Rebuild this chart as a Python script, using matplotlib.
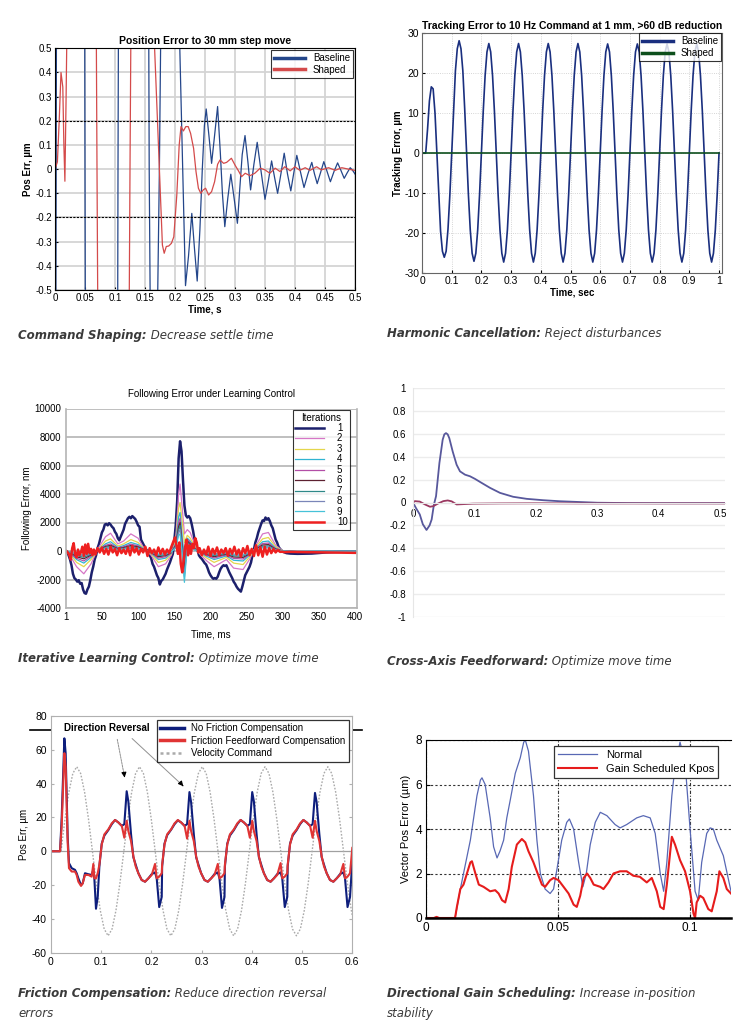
import numpy as np
import matplotlib
matplotlib.use("Agg")
import matplotlib.pyplot as plt
from matplotlib.ticker import FormatStrFormatter

plt.rcParams['font.family'] = ['Liberation Sans', 'DejaVu Sans']
plt.rcParams['axes.unicode_minus'] = False

W, H = 749, 1026

# ----------------------------
# DATA: command shaping (panel 1)
# ----------------------------
step_base_t = [0, 0.0012, 0.025, 0.05, 0.078, 0.105, 0.13, 0.157, 0.163, 0.174, 0.19, 0.208,
               0.2175, 0.2225, 0.228, 0.2325, 0.237, 0.2415, 0.2455, 0.249, 0.252, 0.2565,
               0.261, 0.266, 0.271, 0.2755, 0.279, 0.283, 0.288, 0.293, 0.2985, 0.304, 0.308,
               0.312, 0.3167, 0.3215, 0.326, 0.3315, 0.337, 0.3435, 0.35, 0.3555, 0.361, 0.366,
               0.371, 0.3765, 0.382, 0.3875, 0.393, 0.398, 0.403, 0.409, 0.415, 0.4215, 0.428,
               0.4325, 0.437, 0.4425, 0.448, 0.4535, 0.459, 0.465, 0.471, 0.4765, 0.482, 0.487,
               0.492, 0.496, 0.5]
step_base = [0, -1.0, 30, 0, -30, 0, 20, 0, -2, 0, 4, 0.5,
             -0.482, -0.36, -0.183, -0.33, -0.463, -0.25, 0.0, 0.18, 0.249, 0.14,
             0.024, 0.14, 0.259, 0.07, -0.1, -0.238, -0.12, -0.021, -0.12, -0.224, -0.08,
             0.06, 0.139, 0.03, -0.086, 0.02, 0.111, -0.01, -0.125, -0.05, 0.034, -0.035,
             -0.1, -0.02, 0.066, -0.02, -0.09, -0.015, 0.057, -0.01, -0.076, -0.02, 0.028,
             -0.02, -0.06, -0.015, 0.031, -0.01, -0.052, -0.01, 0.026, -0.005, -0.038, -0.015,
             0.006, -0.005, -0.02]
step_shaped_t = [0, 0.004, 0.007, 0.01, 0.013, 0.0148, 0.0165, 0.0185, 0.0195, 0.045, 0.07, 0.097,
                 0.125, 0.146, 0.166, 0.179, 0.182, 0.1855, 0.1895, 0.194, 0.198, 0.203, 0.207,
                 0.21, 0.214, 0.218, 0.222, 0.226, 0.231, 0.235, 0.239, 0.243, 0.247, 0.251,
                 0.256, 0.261, 0.266, 0.271, 0.275, 0.281, 0.286, 0.294, 0.3, 0.306, 0.311,
                 0.317, 0.325, 0.333, 0.342, 0.35, 0.358, 0.367, 0.375, 0.383, 0.392, 0.4,
                 0.408, 0.417, 0.425, 0.436, 0.444, 0.456, 0.467, 0.478, 0.489, 0.5]
step_shaped = [0, 0.03, 0.2, 0.4, 0.34, 0.1, -0.05, 0.3, 0.5, 12, 0, -12,
               0, 8, 0.5, -0.314, -0.348, -0.32, -0.318, -0.307, -0.28, -0.107, 0.1,
               0.176, 0.158, 0.176, 0.176, 0.148, 0.086, -0.01, -0.079, -0.1, -0.086, -0.079,
               -0.107, -0.093, -0.052, 0.02, 0.038, 0.024, 0.028, 0.045, 0.017, -0.008, -0.031,
               -0.017, -0.027, -0.017, 0.004, -0.003, -0.017, 0.004, -0.01, 0.01, -0.007, 0.01,
               -0.005, 0.006, -0.005, 0.01, -0.003, 0.006, -0.005, 0.006, 0, -0.005]

# ----------------------------
# DATA: harmonic cancellation (panel 2), one sample every 6.25 ms
# ----------------------------
track_t = np.linspace(0, 1, 161)
track_base = [
    0, 0, 0, 6, 13, 16.5, 16, 10, 0, -10.5, -19.5, -24.5, -26, -24.5, -19, -10.5,
    0, 11, 20.5, 26, 28, 26, 20.5, 11, 0, -10.4, -19.2, -25, -27, -25, -19.2, -10.4,
    0, 10.5, 19.3, 25.2, 27.3, 25.2, 19.3, 10.5, 0, -10.4, -19.2, -25, -27.2, -25, -19.2, -10.4,
    0, 10.5, 19.3, 25.2, 27.3, 25.2, 19.3, 10.5, 0, -10.4, -19.2, -25, -27.2, -25, -19.2, -10.4,
    0, 10.5, 19.3, 25.2, 27.3, 25.2, 19.3, 10.5, 0, -10.4, -19.2, -25, -27.2, -25, -19.2, -10.4,
    0, 10.5, 19.3, 25.2, 27.3, 25.2, 19.3, 10.5, 0, -10.4, -19.2, -25, -27.2, -25, -19.2, -10.4,
    0, 10.5, 19.3, 25.2, 27.2, 25.2, 19.3, 10.5, 0, -10.4, -19.2, -25, -27.2, -25, -19.2, -10.4,
    0, 10.5, 19.3, 25.2, 27.2, 25.2, 19.3, 10.5, 0, -10.4, -19.2, -25, -27.2, -25, -19.2, -10.4,
    0, 10.5, 19.3, 25.2, 27.2, 25.2, 19.3, 10.5, 0, -10.4, -19.2, -25, -27.2, -25, -19.2, -10.4,
    0, 10.5, 19.3, 25.2, 27.2, 25.2, 19.3, 10.5, 0, -10.4, -19.2, -25, -27.2, -25, -19.2, -10.4,
    0]
track_shaped = [0] * 161

# ----------------------------
# DATA: iterative learning control (panel 3)
# ----------------------------
ilc_first = [
    (0, 0), (3, -150), (6, -600), (8, -1000), (10, -1600), (12, -1900), (14, -2000), (16, -2150),
    (18, -2050), (20, -2300), (22, -2250), (24, -2700), (26, -2950), (28, -3000), (30, -2700),
    (32, -2500), (34, -2050), (36, -1500), (38, -1100), (40, -600), (42, -300), (44, 200),
    (46, 500), (48, 900), (50, 1300), (52, 1500), (54, 1850), (56, 1900), (58, 1800), (60, 1950),
    (62, 1850), (64, 1700), (66, 1600), (68, 1350), (70, 1200), (72, 900), (74, 750), (76, 1000),
    (78, 1250), (80, 1500), (82, 1900), (84, 2100), (86, 2300), (88, 2400), (90, 2300), (92, 2450),
    (94, 2350), (96, 2250), (98, 2050), (100, 1800), (102, 1700), (104, 800), (106, 600),
    (108, 400), (110, 200), (112, 50), (114, -100), (116, -300), (118, -500), (120, -900),
    (122, -1100), (124, -1400), (126, -1700), (128, -1900), (130, -2350), (132, -2100),
    (134, -2000), (136, -1800), (138, -1600), (140, -1300), (142, -1050), (144, -800),
    (146, -500), (148, -200), (150, 700), (152, 1800), (154, 3500), (156, 6500), (158, 7700),
    (160, 7000), (162, 5000), (164, 3200), (166, 2500), (168, 2350), (170, 2450), (172, 2300),
    (174, 1900), (176, 1400), (178, 800), (180, 500), (182, 100), (184, -300), (186, -450),
    (188, -550), (190, -700), (192, -850), (194, -950), (196, -1200), (198, -1500), (200, -1700),
    (202, -1850), (204, -1950), (206, -1900), (208, -1950), (210, -1800), (212, -1500),
    (214, -1250), (216, -1100), (218, -1000), (220, -1050), (222, -1000), (224, -1250),
    (226, -1500), (228, -1700), (230, -1900), (232, -2150), (234, -2300), (236, -2500),
    (238, -2650), (240, -2750), (242, -2850), (244, -2500), (246, -2100), (248, -1700),
    (250, -1500), (252, -1300), (254, -1100), (256, -800), (258, -300), (260, 100), (262, 600),
    (264, 900), (266, 1300), (268, 1600), (270, 1900), (272, 2150), (274, 2100), (276, 2350),
    (278, 2200), (280, 2300), (282, 2100), (284, 1800), (286, 1600), (288, 1200), (290, 800),
    (292, 600), (294, 300), (296, 150), (298, 50), (300, -50), (305, -150), (310, -180),
    (320, -200), (340, -180), (360, -100), (380, -60), (400, -60)]

ilc_mid_t = [1, 8, 15, 25, 35, 45, 55, 62, 72, 80, 90, 100, 108, 118, 128, 138, 146, 152, 156, 158,
             161, 164, 168, 172, 178, 185, 195, 205, 212, 222, 232, 245, 255, 263, 272, 280, 290,
             300, 320, 360, 400]
ilc_iter2 = [0, -500, -1100, -1600, -900, 200, 1000, 1250, 500, 700, 1200, 900, 200, -300, -1100,
             -900, -300, 900, 4000, 4700, 3000, 1200, 1500, 1300, 500, -200, -700, -1100, -900,
             -600, -1200, -1300, -500, 400, 1200, 1300, 400, 0, -100, -50, -50]
ilc_iter3 = [0, -350, -800, -1100, -600, 100, 700, 850, 350, 500, 800, 600, 150, -200, -800, -650,
             -200, 700, 3000, 3400, 2000, 600, 1100, 900, 350, -150, -500, -800, -650, -450, -850,
             -950, -350, 300, 850, 950, 300, 0, -80, -50, -50]
ilc_iter4 = [0, -250, -600, -850, -450, 80, 500, 650, 250, 380, 600, 450, 120, -150, -600, -500,
             -150, 550, 2400, 2700, 1000, -600, 900, 700, 250, -100, -380, -600, -500, -350, -650,
             -700, -250, 200, 650, 700, 200, 0, -60, -40, -40]
ilc_iter5 = [0, -200, -500, -700, -350, 60, 400, 500, 200, 300, 480, 360, 100, -120, -500, -400,
             -120, 450, 2000, 2300, 500, -1000, 800, 600, 200, -80, -300, -500, -400, -280, -520,
             -560, -200, 160, 520, 560, 160, 0, -50, -30, -30]
ilc_iter6 = [0, -150, -400, -550, -280, 50, 320, 400, 160, 240, 380, 290, 80, -100, -400, -320,
             -100, 380, 1700, 2000, 200, -1300, 700, 500, 160, -60, -240, -400, -320, -220, -420,
             -450, -160, 130, 420, 450, 130, 0, -40, -30, -30]
ilc_iter7 = [0, -120, -320, -440, -220, 40, 260, 320, 130, 190, 300, 230, 60, -80, -320, -260,
             -80, 320, 1500, 1800, 0, -1600, 600, 420, 130, -50, -190, -320, -260, -180, -340,
             -360, -130, 100, 340, 360, 100, 0, -40, -20, -20]
ilc_iter8 = [0, -100, -260, -350, -180, 30, 210, 260, 100, 150, 240, 180, 50, -60, -260, -210,
             -60, 260, 1300, 1500, -200, -1800, 500, 350, 100, -40, -150, -260, -210, -140, -270,
             -290, -100, 80, 270, 290, 80, 0, -30, -20, -20]
ilc_iter9 = [0, -80, -210, -280, -140, 25, 170, 210, 80, 120, 190, 150, 40, -50, -210, -170,
             -50, 210, 1100, 1200, -300, -2200, 400, 280, 80, -30, -120, -210, -170, -110, -220,
             -230, -80, 60, 220, 230, 60, 0, -30, -20, -20]

ilc_last_t = [1, 3, 5, 7, 9, 11, 13, 15, 17, 19, 21, 23, 25, 27, 29, 31, 33, 35, 37, 39, 41, 44,
              47, 50, 53, 56, 59, 62, 65, 68, 71, 74, 77, 80, 83, 86, 89, 92, 95, 98, 101, 104,
              107, 110, 113, 116, 119, 122, 125, 128, 131, 134, 137, 140, 143, 146, 149, 151,
              153, 155, 157, 159, 161, 163, 165, 167, 169, 171, 173, 175, 177, 179, 181, 183,
              185, 188, 191, 194, 197, 200, 203, 206, 209, 212, 215, 218, 221, 224, 227, 230,
              233, 236, 239, 242, 245, 248, 251, 254, 257, 260, 263, 266, 269, 272, 275, 278,
              281, 284, 287, 290, 293, 296, 299, 302, 310, 330, 360, 400]
ilc_iter10 = [0, -100, -300, -600, 200, 550, -200, -450, 100, -300, -100, 300, -350, 450, -200,
              500, -150, 150, -300, 100, -250, 200, -100, 250, -200, 150, -250, 300, -100, 150,
              -300, 200, -150, 100, -200, 250, -300, 350, -100, 200, -250, 150, -100, 300, -350,
              200, -150, 100, -300, 250, -200, 150, -250, 100, -150, 300, 700, 950, 400, -200,
              600, -900, -1500, -600, 300, 800, -300, 400, -200, 500, 200, 900, 600, -100, 200,
              -300, 100, -250, 300, -350, 150, -200, 250, -300, 100, -150, 200, -350, 150, -200,
              300, -250, 100, -400, 200, -150, 350, -300, 150, -350, 400, -300, 250, -400, 300,
              -250, 200, -150, 150, -100, 80, -60, -50, -80, -60, -80, -100, -130]
ilc_labels = ['1', '2', '3', '4', '5', '6', '7', '8', '9', '10']

# ----------------------------
# DATA: cross-axis feedforward (panel 4)
# ----------------------------
xff_t1 = [0, 0.005, 0.011, 0.016, 0.022, 0.027, 0.0304, 0.034, 0.0375, 0.043, 0.0483, 0.051,
          0.0537, 0.0565, 0.0591, 0.0646, 0.071, 0.0765, 0.0847, 0.0928, 0.101, 0.1118, 0.1254,
          0.1417, 0.163, 0.185, 0.212, 0.239, 0.272, 0.3, 0.35, 0.4, 0.45, 0.508]
xff_y1 = [0, -0.05, -0.104, -0.19, -0.24, -0.2, -0.148, -0.02, 0.055, 0.345, 0.548, 0.595,
          0.606, 0.595, 0.562, 0.446, 0.33, 0.272, 0.243, 0.229, 0.206, 0.171, 0.128,
          0.084, 0.05, 0.032, 0.02, 0.011, 0.004, -0.002, -0.005, -0.006, -0.006, -0.006]
xff_t2 = [0, 0.003, 0.011, 0.0195, 0.0277, 0.033, 0.0412, 0.0494, 0.0565, 0.063, 0.071, 0.079,
          0.098, 0.1417, 0.2, 0.3, 0.4, 0.508]
xff_y2 = [0, 0.012, 0.008, -0.017, -0.037, -0.032, -0.008, 0.012, 0.018, 0.01, -0.017, -0.015,
          -0.01, -0.008, -0.007, -0.008, -0.008, -0.008]

# ----------------------------
# DATA: friction compensation (panel 5)
# ----------------------------
fric_t = [0, 0.018, 0.0213, 0.0266, 0.0292, 0.0332, 0.0358, 0.0412, 0.0478, 0.0511, 0.0545,
          0.0598, 0.0631, 0.0677, 0.0744, 0.081, 0.0843, 0.0863, 0.0896, 0.093,
          0.0963, 0.101, 0.1063, 0.1143, 0.121, 0.1276, 0.1343, 0.141, 0.146, 0.1507, 0.154,
          0.1594, 0.164, 0.1687, 0.174, 0.1806, 0.1873, 0.194, 0.2006, 0.2072, 0.2105, 0.2155, 0.2205,
          0.2213, 0.226, 0.2313, 0.2393, 0.246, 0.2526, 0.2593, 0.266, 0.271, 0.2757, 0.279,
          0.2844, 0.289, 0.2937, 0.299, 0.3056, 0.3123, 0.319, 0.3256, 0.3322, 0.3355, 0.3405, 0.3455,
          0.3463, 0.351, 0.3563, 0.3643, 0.371, 0.3776, 0.3843, 0.391, 0.396, 0.4007, 0.404,
          0.4094, 0.414, 0.4187, 0.424, 0.4306, 0.4373, 0.444, 0.4506, 0.4572, 0.4605, 0.4655, 0.4705,
          0.4713, 0.476, 0.4813, 0.4893, 0.496, 0.5026, 0.5093, 0.516, 0.521, 0.5257, 0.529,
          0.5344, 0.539, 0.5437, 0.549, 0.5556, 0.5623, 0.569, 0.5756, 0.5822, 0.5855, 0.5905, 0.5955,
          0.6]
fric_none = [0, 0, 20, 66.8, 58, 8.6, -7, -10, -11, -13, -16, -20, -19, -13, -13.6, -14, -11, -16, -34, -27,
             -9, 4.5, 9.3, 12.6, 16, 18.5, 17, 15, 16, 35.5, 29.5, 10, -3.5, -8, -13, -17, -18, -16, -13.5, -12.5, -16, -33, -27,
             -9, 4.5, 9.5, 12.8, 16, 18.3, 17, 15, 16, 35, 29, 10, -3.5, -8, -13, -17, -18, -16, -13.5, -12.5, -16, -33.5, -27,
             -9, 4.5, 9.3, 12.6, 16, 18.5, 17, 15, 16, 35, 29.5, 10, -3.5, -8, -13, -17, -18, -16, -13.5, -12.5, -16, -33, -27,
             -9, 4.5, 9.3, 12.6, 16, 18.5, 17, 15, 16, 34.5, 29, 10, -3.5, -8, -13, -17, -18, -16, -13.5, -12.5, -16, -33, -27,
             -6]
fric_ff = [0, 0, 15, 58, 50, 5, -10, -12, -12, -14, -18, -20.5, -19, -14, -14, -15, -7.5, -16, -16, -13,
           -8, 4, 10, 13, 16.5, 18.5, 17, 15, 8, 18, 12, 6, -3, -9, -13, -17, -18, -16, -14, -7.5, -16, -15, -13,
           -8, 4, 10, 13, 16.5, 18.5, 17, 15, 7.5, 18, 12, 6, -3, -9, -13, -17, -18, -16, -14, -7.5, -16, -15, -13,
           -8, 4, 10, 13, 16.5, 18.5, 17, 15, 8, 18, 12, 6, -3, -9, -13, -17, -18, -16, -14, -7, -16, -15, -13,
           -8, 4, 10, 13, 16.5, 18.5, 17, 15, 8, 18, 12, 6, -3, -9, -13, -17, -18, -16, -14, -7.5, -16, -15, -13,
           2]
vel_t = np.append(0.02 + np.arange(75) * 0.0078125, 0.6)
vel_cmd = [0, 19, 35, 46, 50, 46, 35, 19, 0, -19, -35, -46, -50, -46, -35, -19,
           0, 19, 35, 46, 50, 46, 35, 19, 0, -19, -35, -46, -50, -46, -35, -19,
           0, 19, 35, 46, 50, 46, 35, 19, 0, -19, -35, -46, -50, -46, -35, -19,
           0, 19, 35, 46, 50, 46, 35, 19, 0, -19, -35, -46, -50, -46, -35, -19,
           0, 19, 35, 46, 50, 46, 35, 19, 0, -19, -35,
           -38]

# ----------------------------
# DATA: directional gain scheduling (panel 6)
# ----------------------------
gs_t1 = [0, 0.011, 0.013, 0.0168, 0.0193, 0.0206, 0.0212, 0.0224, 0.0243, 0.0256, 0.0269, 0.028,
         0.0294, 0.0306, 0.0319, 0.0338, 0.0357, 0.037, 0.0376, 0.0388, 0.0407, 0.042, 0.0433,
         0.0451, 0.047, 0.0483, 0.0496, 0.0514, 0.0533, 0.0543, 0.0559, 0.0578, 0.0594, 0.0607,
         0.0622, 0.0641, 0.066, 0.0685, 0.0716, 0.0735, 0.076, 0.0798, 0.0823, 0.0849, 0.0868,
         0.0887, 0.09, 0.0912, 0.0931, 0.0943, 0.0962, 0.0981, 0.1, 0.1019, 0.1031, 0.1044,
         0.1063, 0.1076, 0.1088, 0.1101, 0.1126, 0.1155]
gs_normal = [0, 0, 1.3, 3.5, 5.5, 6.2, 6.3, 6.0, 4.5, 3.2, 2.7, 3.0,
             3.5, 4.5, 5.3, 6.5, 7.2, 7.9, 8.0, 7.5, 5.5, 3.5, 2.0,
             1.3, 1.1, 1.3, 2.2, 3.5, 4.3, 4.45, 4.0, 2.5, 1.4, 2.0,
             3.3, 4.3, 4.75, 4.6, 4.2, 4.05, 4.2, 4.5, 4.6, 4.5, 3.8,
             2.0, 1.2, 2.5, 5.5, 6.8, 7.9, 7.0, 4.0, 1.2, 0.8, 2.5,
             3.8, 4.05, 4.0, 3.5, 2.8, 1.2]
gs_t2 = [0, 0.003, 0.004, 0.005, 0.011, 0.0117, 0.013, 0.0142, 0.0155, 0.0168, 0.0174, 0.0187,
         0.02, 0.0218, 0.0243, 0.0262, 0.0275, 0.0288, 0.03, 0.0313, 0.0325, 0.0344, 0.0363,
         0.0376, 0.0388, 0.0407, 0.0426, 0.0439, 0.0451, 0.047, 0.0483, 0.0502, 0.0521, 0.054,
         0.0559, 0.0571, 0.0584, 0.0597, 0.061, 0.0622, 0.0635, 0.066, 0.0672, 0.0691, 0.071,
         0.0735, 0.076, 0.0785, 0.081, 0.0836, 0.0855, 0.0874, 0.0887, 0.09, 0.0912, 0.0925,
         0.0931, 0.0943, 0.0962, 0.0981, 0.1, 0.1013, 0.1019, 0.1025, 0.1038, 0.105, 0.1069,
         0.1082, 0.1101, 0.1111, 0.1126, 0.1139, 0.1155]
gs_sched = [0, 0, 0.05, 0, 0, 0.5, 1.3, 1.5, 2.0, 2.5, 2.55, 2.0,
            1.5, 1.4, 1.2, 1.25, 1.1, 0.8, 0.7, 1.3, 2.3, 3.3, 3.55,
            3.4, 3.0, 2.5, 1.9, 1.5, 1.4, 1.7, 1.8, 1.7, 1.4, 1.1,
            0.6, 0.5, 1.0, 1.8, 2.0, 1.8, 1.5, 1.4, 1.3, 1.6, 2.0,
            2.1, 2.1, 1.9, 1.85, 1.6, 1.8, 1.2, 0.5, 0.4, 1.5, 3.0,
            3.65, 3.3, 2.6, 2.1, 1.2, 0.2, 0.0, 0.7, 1.0, 0.9, 0.4,
            0.3, 1.2, 2.1, 1.8, 1.3, 1.1]


def rect(left, top, right, bottom):
    return [left / W, 1 - bottom / H, (right - left) / W, (bottom - top) / H]


def ticks(a, b, step):
    # +0.0 turns -0.0 into 0.0 so no "-0" label appears
    return np.round(np.arange(a, b + step / 2, step), 3) + 0.0


fig = plt.figure(figsize=(W / 100, H / 100), dpi=100)

# full-figure layer for captions and the stray rule behind panel 5
bg = fig.add_axes([0, 0, 1, 1])
bg.set_xlim(0, W)
bg.set_ylim(H, 0)
bg.axis('off')
bg.set_zorder(-1)
bg.plot([30, 362], [730, 730], color='black', lw=1.2)

cap_kw = dict(fontsize=8.5, color='#3a3a3a', family='DejaVu Sans', fontstyle='italic')


def caption(x, y, head, rest, line2=None):
    t = bg.text(x, y, head, fontweight='bold', va='baseline', ha='left', **cap_kw)
    bg.annotate(rest, xy=(1, 0), xycoords=t, va='bottom', ha='left', **cap_kw)
    if line2:
        bg.text(x, y + 20, line2, va='baseline', ha='left', **cap_kw)


caption(18, 339, "Command Shaping:", " Decrease settle time")
caption(387, 337, "Harmonic Cancellation:", " Reject disturbances")
caption(18, 662, "Iterative Learning Control:", " Optimize move time")
caption(387, 665, "Cross-Axis Feedforward:", " Optimize move time")
caption(18, 997, "Friction Compensation:", " Reduce direction reversal", "errors")
caption(387, 997, "Directional Gain Scheduling:", " Increase in-position", "stability")

# ----------------------------
# PANEL 1
# ----------------------------
ax = fig.add_axes(rect(55, 48.3, 355, 290))
ax.plot(step_base_t, step_base, color='#24468a', lw=0.9, label='Baseline')
ax.plot(step_shaped_t, step_shaped, color='#d44a4a', lw=0.9, label='Shaped')
for yv in (0.2, -0.2):
    ax.axhline(yv, color='black', lw=0.8, ls=(0, (2, 1.2)))
ax.set_xlim(0, 0.5)
ax.set_ylim(-0.5, 0.5)
ax.set_xticks(ticks(0, 0.5, 0.05))
ax.set_yticks(ticks(-0.5, 0.5, 0.1))
ax.xaxis.set_major_formatter(FormatStrFormatter('%g'))
ax.yaxis.set_major_formatter(FormatStrFormatter('%g'))
ax.grid(True, color='#d4d4d4', lw=1.3)
ax.set_axisbelow(True)
ax.tick_params(direction='in', length=2, labelsize=7, pad=2)
ax.set_title('Position Error to 30 mm step move', fontsize=7.5, fontweight='bold', pad=3)
ax.set_xlabel('Time, s', fontsize=7, fontweight='bold', labelpad=1)
ax.set_ylabel('Pos Err, µm', fontsize=7, fontweight='bold', labelpad=2)
leg = ax.legend(loc='upper right', bbox_to_anchor=(0.993, 0.993), fontsize=7, frameon=True,
                fancybox=False, edgecolor='black', handlelength=3.2, borderpad=0.3,
                labelspacing=0.2, borderaxespad=0)
for h in leg.get_lines():
    h.set_linewidth(2.5)
leg.get_frame().set_linewidth(0.8)

# ----------------------------
# PANEL 2
# ----------------------------
ax = fig.add_axes(rect(422, 32.7, 722, 273.3))
ax.plot(track_t, track_base, color='#1a2f7f', lw=1.2, label='Baseline')
ax.plot(track_t, track_shaped, color='#0d4f1c', lw=1.2, label='Shaped')
ax.set_xlim(0, 1.01)
ax.set_ylim(-30, 30)
ax.set_xticks(ticks(0, 1, 0.1))
ax.set_yticks(ticks(-30, 30, 10))
ax.xaxis.set_major_formatter(FormatStrFormatter('%g'))
ax.yaxis.set_major_formatter(FormatStrFormatter('%g'))
ax.grid(True, color='#c8c8c8', lw=0.6, ls=':')
ax.tick_params(direction='in', length=2, labelsize=7.5, pad=2)
for s in ax.spines.values():
    s.set_color('#666666')
ax.set_title('Tracking Error to 10 Hz Command at 1 mm, >60 dB reduction', fontsize=7.5,
             fontweight='bold', pad=3)
ax.set_xlabel('Time, sec', fontsize=7, fontweight='bold', labelpad=1)
ax.set_ylabel('Tracking Error, µm', fontsize=7, fontweight='bold', labelpad=1)
leg = ax.legend(loc='upper right', bbox_to_anchor=(0.996, 0.997), fontsize=7, frameon=True,
                fancybox=False, edgecolor='black', handlelength=3.2, borderpad=0.3,
                labelspacing=0.2, borderaxespad=0)
for h in leg.get_lines():
    h.set_linewidth(2.5)
leg.get_frame().set_linewidth(0.8)

# ----------------------------
# PANEL 3
# ----------------------------
ax = fig.add_axes(rect(65.7, 408.5, 356.7, 608))
ilc_colors = ['#1c206c', '#d676c6', '#e4d64c', '#2fb4d2', '#b24ea6', '#5c2030', '#2e8888',
              '#7a86b8', '#46c2d8', '#ee2020']
ilc_mid = [ilc_iter2, ilc_iter3, ilc_iter4, ilc_iter5, ilc_iter6, ilc_iter7, ilc_iter8, ilc_iter9]
t1 = [p[0] for p in ilc_first]
y1 = [p[1] for p in ilc_first]
ax.plot(t1, y1, color=ilc_colors[0], lw=1.8, label=ilc_labels[0])
for i, ys in enumerate(ilc_mid):
    ax.plot(ilc_mid_t, ys, color=ilc_colors[i + 1], lw=0.9, label=ilc_labels[i + 1])
ax.plot(ilc_last_t, ilc_iter10, color=ilc_colors[9], lw=1.8, label=ilc_labels[9])
ax.set_xlim(0, 402)
ax.set_ylim(-4000, 10000)
ax.set_xticks([1, 50, 100, 150, 200, 250, 300, 350, 400])
ax.set_yticks(ticks(-4000, 10000, 2000))
ax.yaxis.set_major_formatter(FormatStrFormatter('%d'))
ax.grid(True, axis='y', color='#b4b4b4', lw=1.2)
ax.set_axisbelow(True)
ax.tick_params(length=0, labelsize=7, pad=3)
ax.spines['top'].set_visible(False)
for s in ('left', 'right', 'bottom'):
    ax.spines[s].set_color('#b4b4b4')
    ax.spines[s].set_linewidth(1.2)
ax.set_title('Following Error under Learning Control', fontsize=7, pad=8)
ax.set_xlabel('Time, ms', fontsize=7, labelpad=5)
ax.set_ylabel('Following Error, nm', fontsize=7, labelpad=2)
leg = ax.legend(loc='upper right', bbox_to_anchor=(0.977, 0.992), fontsize=7,
                title='Iterations', title_fontsize=7, frameon=True, fancybox=False,
                edgecolor='black', handlelength=3.0, borderpad=0.25, labelspacing=0.05,
                borderaxespad=0, handletextpad=1.3)
leg.get_frame().set_linewidth(0.8)
for t in leg.get_texts():
    t.set_ha('right')

# ----------------------------
# PANEL 4
# ----------------------------
ax = fig.add_axes(rect(413, 388, 725, 617))
ax.plot(xff_t1, xff_y1, color='#58589c', lw=1.3)
ax.plot(xff_t2, xff_y2, color='#9a3860', lw=1.3)
ax.set_xlim(0, 0.508)
ax.set_ylim(-1, 1)
ax.set_yticks(ticks(-1, 1, 0.2))
ax.set_xticks(ticks(0, 0.5, 0.1))
ax.xaxis.set_major_formatter(FormatStrFormatter('%g'))
ax.yaxis.set_major_formatter(FormatStrFormatter('%g'))
ax.grid(True, axis='y', color='#ececec', lw=1.0)
ax.set_axisbelow(True)
ax.spines['bottom'].set_position(('data', 0))
ax.spines['bottom'].set_color('#e6e6e6')
ax.spines['left'].set_color('#e6e6e6')
ax.spines['top'].set_visible(False)
ax.spines['right'].set_visible(False)
ax.tick_params(length=0, labelsize=7, pad=5)

# ----------------------------
# PANEL 5
# ----------------------------
ax = fig.add_axes(rect(51, 716, 352.3, 952.7))
ax.axhline(0, color='#a0a0a0', lw=0.9)
ax.plot(vel_t, vel_cmd, color='#aaaaaa', lw=1.0, ls=(0, (1.2, 1.2)), label='Velocity Command')
ax.plot(fric_t, fric_none, color='#0e1e7c', lw=1.5, label='No Friction Compensation')
ax.plot(fric_t, fric_ff, color='#e03434', lw=1.5, label='Friction Feedforward Compensation')
ax.set_xlim(0, 0.6)
ax.set_ylim(-60, 80)
ax.set_xticks(ticks(0, 0.6, 0.1))
ax.set_yticks(ticks(-60, 80, 20))
ax.xaxis.set_major_formatter(FormatStrFormatter('%g'))
ax.yaxis.set_major_formatter(FormatStrFormatter('%g'))
for s in ax.spines.values():
    s.set_color('#b0b0b0')
ax.tick_params(direction='in', length=2, color='#b0b0b0', labelsize=7.5, pad=3,
               right=True, top=False)
ax.set_ylabel('Pos Err, µm', fontsize=7, labelpad=2)
hs, ls_ = ax.get_legend_handles_labels()
leg = ax.legend([hs[1], hs[2], hs[0]], [ls_[1], ls_[2], ls_[0]], loc='upper right',
                bbox_to_anchor=(0.989, 0.983), fontsize=7, frameon=True, fancybox=False,
                edgecolor='black', handlelength=2.4, borderpad=0.35, labelspacing=0.25,
                borderaxespad=0)
leg.get_lines()[0].set_linewidth(2.5)
leg.get_lines()[1].set_linewidth(2.5)
leg.get_lines()[2].set_linewidth(1.8)
leg.get_frame().set_linewidth(0.9)
ax.text(0.1116, 72.9, 'Direction Reversal', fontsize=7, ha='center', va='center', fontweight='bold')
ax.annotate('', xy=(0.1474, 42.5), xytext=(0.1309, 67.8),
            arrowprops=dict(arrowstyle='-', color='#909090', lw=0.7, ls=(0, (2, 1))))
ax.annotate('', xy=(0.267, 37.6), xytext=(0.1574, 67.8),
            arrowprops=dict(arrowstyle='-', color='#909090', lw=0.7))
ax.annotate('', xy=(0.1474, 42.0), xytext=(0.1455, 46),
            arrowprops=dict(arrowstyle='-|>', color='black', lw=0.8, mutation_scale=7))
ax.annotate('', xy=(0.267, 37.2), xytext=(0.259, 40),
            arrowprops=dict(arrowstyle='-|>', color='black', lw=0.8, mutation_scale=7))

# ----------------------------
# PANEL 6
# ----------------------------
ax = fig.add_axes(rect(426, 740, 731, 918))
ax.plot(gs_t1, gs_normal, color='#5868b4', lw=0.9, label='Normal')
ax.plot(gs_t2, gs_sched, color='#e61c1c', lw=1.5, label='Gain Scheduled Kpos')
ax.set_xlim(0, 0.1155)
ax.set_ylim(0, 8)
ax.set_xticks([0, 0.05, 0.1])
ax.set_yticks([0, 2, 4, 6, 8])
ax.xaxis.set_major_formatter(FormatStrFormatter('%g'))
ax.grid(True, axis='y', color='#333333', lw=0.8, ls=(0, (2, 2)))
ax.grid(True, axis='x', color='#333333', lw=0.8, ls=(0, (3, 1.5, 1, 1.5)))
ax.spines['right'].set_visible(False)
ax.spines['bottom'].set_linewidth(1.8)
ax.spines['left'].set_linewidth(0.8)
ax.spines['top'].set_linewidth(0.8)
ax.tick_params(direction='in', length=3, labelsize=8.5, pad=3)
ax.set_ylabel('Vector Pos Error (µm)', fontsize=8, labelpad=3)
leg = ax.legend(loc='upper right', bbox_to_anchor=(0.957, 0.966), fontsize=8, frameon=True,
                fancybox=False, edgecolor='#333333', handlelength=3.5, borderpad=0.35,
                labelspacing=0.35, borderaxespad=0, framealpha=1)
leg.get_frame().set_linewidth(0.9)

fig.savefig('out.png', dpi=100)
